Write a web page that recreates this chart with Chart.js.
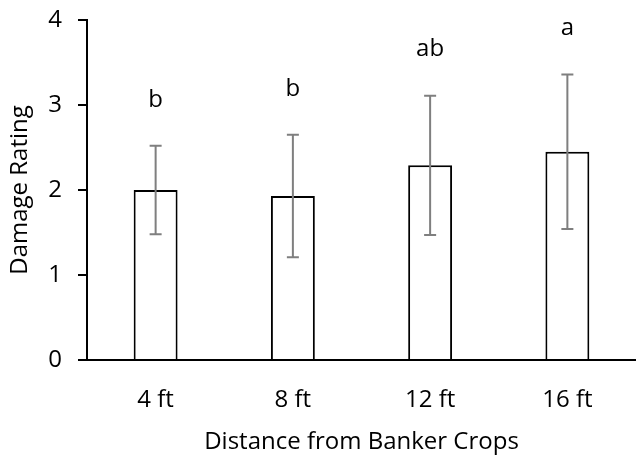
<!DOCTYPE html>
<html>
<head>
<meta charset="utf-8">
<script src="https://cdn.jsdelivr.net/npm/chart.js@4"></script>
<style>
  body { margin: 0; background: #fff; }
  #wrap { width: 636px; height: 457px; }
</style>
</head>
<body>
<div id="wrap"><canvas id="myChart"></canvas></div>
<script>
const categories = ['4 ft', '8 ft', '12 ft', '16 ft'];
const means = [2.00, 1.93, 2.29, 2.45];
const errLow = [1.48, 1.21, 1.47, 1.54];
const errHigh = [2.52, 2.65, 3.11, 3.36];
const letters = ['b', 'b', 'ab', 'a'];

const fontFamily = '"Open Sans", Lato, sans-serif';

// error bars + significance letters, drawn through the scales
const errorBars = {
    id: 'errorBars',
    afterDatasetsDraw(chart) {
        const ctx = chart.ctx;
        const x = chart.scales.x;
        const y = chart.scales.y;
        ctx.save();
        ctx.strokeStyle = '#7f7f7f';
        ctx.lineWidth = 2;
        for (let i = 0; i < categories.length; i++) {
            const cx = x.getPixelForValue(i);
            const top = y.getPixelForValue(errHigh[i]);
            const bot = y.getPixelForValue(errLow[i]);
            ctx.beginPath();
            ctx.moveTo(cx, top);
            ctx.lineTo(cx, bot);
            ctx.moveTo(cx - 6, top);
            ctx.lineTo(cx + 6, top);
            ctx.moveTo(cx - 6, bot);
            ctx.lineTo(cx + 6, bot);
            ctx.stroke();

            ctx.fillStyle = '#000';
            ctx.font = '24px ' + fontFamily;
            ctx.textAlign = 'center';
            ctx.textBaseline = 'middle';
            ctx.fillText(letters[i], cx, top - 46);
        }
        ctx.restore();
    }
};

let myChart = document.getElementById('myChart').getContext('2d');

let damageChart = new Chart(myChart, {
    type: 'bar',
    data: {
        labels: categories,
        datasets: [{
            label: 'Damage Rating',
            data: means,
            backgroundColor: '#ffffff',
            borderColor: '#000000',
            borderWidth: 2,
            barPercentage: 0.32,
            categoryPercentage: 1
        }]
    },
    options: {
        responsive: true,
        maintainAspectRatio: false,
        animation: false,
        layout: {
            padding: { top: 20, right: 0, left: 0, bottom: 0 }
        },
        plugins: {
            legend: { display: false },
            tooltip: { enabled: false }
        },
        scales: {
            y: {
                min: 0,
                max: 4,
                afterFit: function(scale) {
                    scale.width = 87;
                    scale.paddingTop = 0;
                    scale.paddingBottom = 0;
                },
                ticks: {
                    stepSize: 1,
                    padding: 16,
                    color: '#000',
                    font: { family: fontFamily, size: 24 }
                },
                grid: {
                    drawOnChartArea: false,
                    drawTicks: true,
                    tickLength: 9,
                    color: '#000',
                    lineWidth: 2
                },
                border: { display: true, color: '#000', width: 2 },
                title: {
                    display: true,
                    text: 'Damage Rating',
                    color: '#000',
                    padding: 6,
                    font: { family: fontFamily, size: 24 }
                }
            },
            x: {
                afterFit: function(scale) { scale.height = 97; },
                ticks: {
                    padding: 26,
                    color: '#000',
                    font: { family: fontFamily, size: 24 }
                },
                grid: { display: false, drawTicks: false },
                border: { display: true, color: '#000', width: 2 },
                title: {
                    display: true,
                    text: 'Distance from Banker Crops',
                    color: '#000',
                    padding: 0,
                    font: { family: fontFamily, size: 24 }
                }
            }
        }
    },
    plugins: [errorBars]
});
</script>
</body>
</html>
